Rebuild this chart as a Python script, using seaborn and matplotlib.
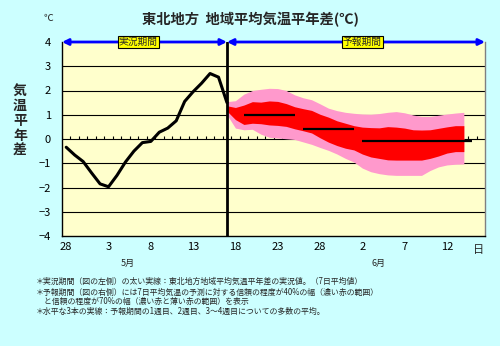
import numpy as np
import seaborn as sns
import matplotlib.pyplot as plt
import matplotlib.transforms as mtransforms

# observed 7-day mean anomaly, day 0 = Apr 28
obs_days = list(range(0, 20))
obs_vals = [-0.34, -0.66, -0.93, -1.4, -1.85, -1.97, -1.5, -0.95, -0.5, -0.15,
            -0.1, 0.28, 0.45, 0.75, 1.55, 1.95, 2.3, 2.7, 2.55, 1.5]

# forecast ranges (70% = pink, 40% = red)
fc_days = list(range(19, 48))
pink_hi = [1.54, 1.58, 1.85, 2.0, 2.05, 2.09, 2.08, 2.0, 1.82, 1.7,
           1.62, 1.45, 1.27, 1.17, 1.1, 1.06, 1.03, 1.02, 1.05, 1.1,
           1.13, 1.08, 0.99, 0.93, 0.93, 0.98, 1.03, 1.07, 1.1]
red_hi = [1.37, 1.3, 1.4, 1.54, 1.52, 1.57, 1.55, 1.46, 1.33, 1.25,
          1.18, 1.02, 0.9, 0.75, 0.65, 0.55, 0.49, 0.47, 0.46, 0.51,
          0.49, 0.45, 0.38, 0.37, 0.38, 0.44, 0.5, 0.55, 0.55]
red_lo = [1.15, 0.8, 0.6, 0.65, 0.63, 0.58, 0.56, 0.52, 0.42, 0.34,
          0.25, 0.05, -0.13, -0.27, -0.38, -0.45, -0.62, -0.74, -0.8, -0.86,
          -0.87, -0.87, -0.87, -0.87, -0.8, -0.7, -0.58, -0.52, -0.52]
pink_lo = [1.0, 0.45, 0.38, 0.4, 0.2, 0.07, 0.04, 0.01, -0.02, -0.12,
           -0.22, -0.35, -0.47, -0.62, -0.8, -0.95, -1.2, -1.35, -1.43, -1.48,
           -1.5, -1.5, -1.5, -1.5, -1.3, -1.15, -1.07, -1.04, -1.03]

# ensemble means: week 1, week 2, weeks 3-4
week_start = [21, 28, 35]
week_end = [27, 34, 48]
week_mean = [1.0, 0.4, -0.1]

n_days = 50
split_day = 19
tick_days = [0, 5, 10, 15, 20, 25, 30, 35, 40, 45]
tick_labels = ['28', '3', '8', '13', '18', '23', '28', '2', '7', '12']
yticks = [-4, -3, -2, -1, 0, 1, 2, 3, 4]

notes = [
    '＊実況期間（図の左側）の太い実線：東北地方地域平均気温平年差の実況値。（7日平均値）',
    '＊予報期間（図の右側）には7日平均気温の予測に対する信頼の程度が40%の幅（濃い赤の範囲）',
    '　と信頼の程度が70%の幅（濃い赤と薄い赤の範囲）を表示',
    '＊水平な3本の実線：予報期間の1週目、2週目、3〜4週目についての多数の平均。',
]

sns.set_theme(style='white')
plt.rcParams['font.family'] = ['Noto Sans CJK JP', 'DejaVu Sans']
plt.rcParams['axes.unicode_minus'] = True

fig = plt.figure(figsize=(5, 3.46), dpi=100, facecolor='#CCFFFF')
ax = fig.add_axes([62 / 500, 1 - 236 / 346, 423 / 500, 194 / 346])
ax.set_facecolor('#FFFFCC')

# grid lines
for y in yticks[1:-1]:
    ax.axhline(y, color='black', lw=0.8, zorder=1)
# day ticks along zero line
ax.vlines(np.arange(n_days) - 0.5, 0, 0.12, colors='black', lw=0.8, zorder=1)

ax.fill_between(fc_days, pink_lo, pink_hi, color='#FF99CC', lw=0, zorder=2)
ax.fill_between(fc_days, red_lo, red_hi, color='#FF0000', lw=0, zorder=3)
ax.hlines(week_mean, week_start, week_end, colors='black', lw=1.6, zorder=4)

sns.lineplot(x=obs_days, y=obs_vals, ax=ax, color='black', lw=2.2, zorder=5)
ax.axvline(split_day, color='black', lw=2.0, zorder=6)

ax.set_xlim(-0.5, n_days - 0.5)
ax.set_ylim(-4, 4)
ax.set_xticks(tick_days)
ax.set_xticklabels(tick_labels, fontsize=8)
ax.set_yticks(yticks)
ax.set_yticklabels([str(v).replace('-', '−') for v in yticks], fontsize=8)
ax.tick_params(axis='both', length=0, colors='black')
ax.tick_params(axis='x', pad=4)
ax.tick_params(axis='y', pad=8)
ax.set_xlabel('')
ax.set_ylabel('')

for s in ['left', 'bottom']:
    ax.spines[s].set_color('black')
    ax.spines[s].set_linewidth(1)
ax.spines['right'].set_color('#808080')
ax.spines['right'].set_linewidth(1)
ax.spines['top'].set_visible(False)

# period arrows
arrow_kw = dict(arrowstyle='<|-|>', color='#0000FF', lw=2, mutation_scale=9,
                shrinkA=0, shrinkB=0)
ax.annotate('', xy=(-0.5, 4), xytext=(split_day, 4), arrowprops=arrow_kw,
            annotation_clip=False, zorder=7)
ax.annotate('', xy=(split_day, 4), xytext=(n_days - 0.5, 4), arrowprops=arrow_kw,
            annotation_clip=False, zorder=7)
box = dict(boxstyle='square,pad=0.1', fc='#FFFF00', ec='black', lw=0.8)
ax.text(8.5, 4, '実況期間', fontsize=7, ha='center', va='center', bbox=box,
        zorder=8, clip_on=False)
ax.text(35, 4, '予報期間', fontsize=7, ha='center', va='center', bbox=box,
        zorder=8, clip_on=False)

trans = mtransforms.blended_transform_factory(ax.transData, ax.transAxes)
ax.text(48.7, -0.045, '日', fontsize=8, ha='center', va='top', transform=trans)

fig.text(0.5, 1 - 20 / 346, '東北地方  地域平均気温平年差(℃)', fontsize=10.3,
         fontweight='bold', ha='center', va='center')
fig.text(48 / 500, 1 - 18 / 346, '℃', fontsize=7, ha='center', va='center')
fig.text(20 / 500, 1 - 121 / 346, '\n'.join('気温平年差'), fontsize=10,
         fontweight='bold', ha='center', va='center', linespacing=1.08)
fig.text(128 / 500, 1 - 263 / 346, '5月', fontsize=6.5, ha='center', va='center')
fig.text(378 / 500, 1 - 263 / 346, '6月', fontsize=6.5, ha='center', va='center')

note_y = [281.7, 292.3, 301.5, 311]
for txt, y in zip(notes, note_y):
    fig.text(36 / 500, 1 - y / 346, txt, fontsize=5.7, ha='left', va='center')

fig.savefig('out.png', dpi=100, facecolor=fig.get_facecolor())
